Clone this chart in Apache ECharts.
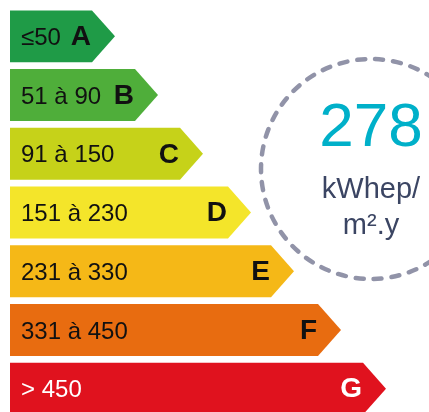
<!DOCTYPE html>
<html><head><meta charset="utf-8">
<script src="https://cdn.jsdelivr.net/npm/echarts@6/dist/echarts.min.js"></script>
<style>html,body{margin:0;padding:0;background:#fff}#c{width:429px;height:412px}</style>
</head><body><div id="c"></div>
<script>
const classes = ['A','B','C','D','E','F','G'];
const ranges = ['≤50','51 à 90','91 à 150','151 à 230','231 à 330','331 à 450','> 450'];
const barLengths = [82,125,170,218,261,308,353];
const colors = ['#1f9b47','#4fae3a','#c6d219','#f4e52a','#f5b817','#e86c10','#e0121e'];
const textColors = ['#111','#111','#111','#111','#111','#111','#fff'];
const value = '278';
const unitLines = ['kWhep/','m².y'];

const FONT = '"Liberation Sans", Arial, sans-serif';
const chart = echarts.init(document.getElementById('c'));
const data = barLengths.map((v,i)=>[v,i]);
chart.setOption({
  animation:false,
  grid:{left:10,top:7,width:419,height:411,outerBoundsMode:'none'},
  xAxis:{type:'value',min:0,max:419,show:false},
  yAxis:{type:'category',data:classes,inverse:true,show:false},
  series:[{
    type:'custom',
    data:data,
    renderItem:function(params,api){
      const i = api.value(1);
      const start = api.coord([0,i]);
      const end = api.coord([api.value(0),i]);
      const band = api.size([0,1])[1];
      const h = band*0.885;
      const yT = start[1]-h/2, yB = start[1]+h/2;
      const x0 = start[0], x1 = end[0], tip = 23;
      const idx = params.dataIndex;
      const children = [{
        type:'polygon',
        shape:{points:[[x0,yT],[x1,yT],[x1+tip,start[1]],[x1,yB],[x0,yB]]},
        style:{fill:colors[idx]}
      },{
        type:'text',
        style:{x:x0+11,y:start[1]+2,text:ranges[idx],fill:textColors[idx],
          font:'24px '+FONT,verticalAlign:'middle',align:'left'}
      },{
        type:'text',
        style:{x:x1-1,y:start[1]+1,text:classes[idx],fill:textColors[idx],
          font:'bold 28px '+FONT,verticalAlign:'middle',align:'right'}
      }];
      return {type:'group',children:children};
    }
  }],
  graphic:[
    {type:'circle',shape:{cx:371,cy:169,r:110},
     style:{fill:'none',stroke:'#9193a8',lineWidth:4.5,lineDash:[8,10],lineCap:'round'}},
    {type:'text',style:{x:371,y:129,text:value,fill:'#00b0c9',font:'62px '+FONT,align:'center',verticalAlign:'middle'}},
    {type:'text',style:{x:371,y:190,text:unitLines[0],fill:'#3b4563',font:'29px '+FONT,align:'center',verticalAlign:'middle'}},
    {type:'text',style:{x:371,y:226,text:unitLines[1],fill:'#3b4563',font:'29px '+FONT,align:'center',verticalAlign:'middle'}}
  ]
});
</script></body></html>
